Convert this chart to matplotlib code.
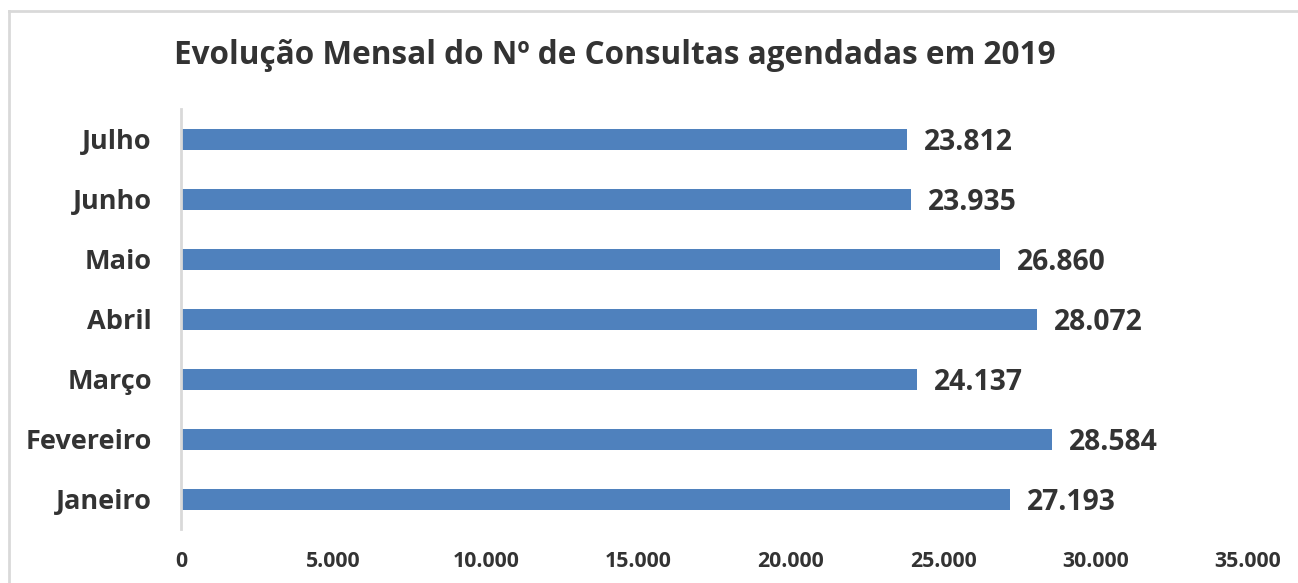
import matplotlib.pyplot as plt
from matplotlib.lines import Line2D
from matplotlib.ticker import FuncFormatter

months = ["Janeiro", "Fevereiro", "Março", "Abril", "Maio", "Junho", "Julho"]
consultas = [27193, 28584, 24137, 28072, 26860, 23935, 23812]
x_ticks = [0, 5000, 10000, 15000, 20000, 25000, 30000, 35000]

BAR = "#4F81BD"
TXT = "#333333"
GRID = "#D9D9D9"
FONT = "Open Sans"


def fmt_pt(v):
    return f"{int(v):,}".replace(",", ".")


fig = plt.figure(figsize=(12.98, 5.83), dpi=100)
ax = fig.add_axes([181 / 1298, 1 - 529 / 583, (1248 - 181) / 1298, (529 - 109) / 583])

y = range(len(months))
ax.barh(y, consultas, height=0.35, color=BAR)
for yi, v in zip(y, consultas):
    ax.text(v + 550, yi, fmt_pt(v), va="center_baseline", ha="left", fontsize=20.3,
            fontweight="bold", color=TXT, family=FONT)

ax.set_xlim(0, 35000)
ax.set_ylim(-0.5, len(months) - 0.5)
ax.set_xticks(x_ticks)
ax.xaxis.set_major_formatter(FuncFormatter(lambda v, p: fmt_pt(v)))
ax.set_yticks(list(y))
ax.set_yticklabels(months)
ax.tick_params(axis="x", length=0, pad=16, labelsize=15.3, labelcolor=TXT)
ax.tick_params(axis="y", length=0, pad=21, labelsize=19.5, labelcolor=TXT)
for lab in ax.get_xticklabels() + ax.get_yticklabels():
    lab.set_fontweight("bold")
    lab.set_family(FONT)

for s in ["top", "right", "bottom"]:
    ax.spines[s].set_visible(False)
ax.spines["left"].set_color(GRID)
ax.spines["left"].set_linewidth(2)

fig.text(615 / 1298, 1 - 55 / 583, "Evolução Mensal do Nº de Consultas agendadas em 2019",
         ha="center", va="center", fontsize=22.7, fontweight="bold", color=TXT, family=FONT)

# chart area border (top and left edges visible)
fig.add_artist(Line2D([9 / 1298, 1], [1 - 11 / 583, 1 - 11 / 583], transform=fig.transFigure,
                      color=GRID, linewidth=2))
fig.add_artist(Line2D([9 / 1298, 9 / 1298], [0, 1 - 11 / 583], transform=fig.transFigure,
                      color=GRID, linewidth=2))

fig.savefig("out.png", dpi=100)
